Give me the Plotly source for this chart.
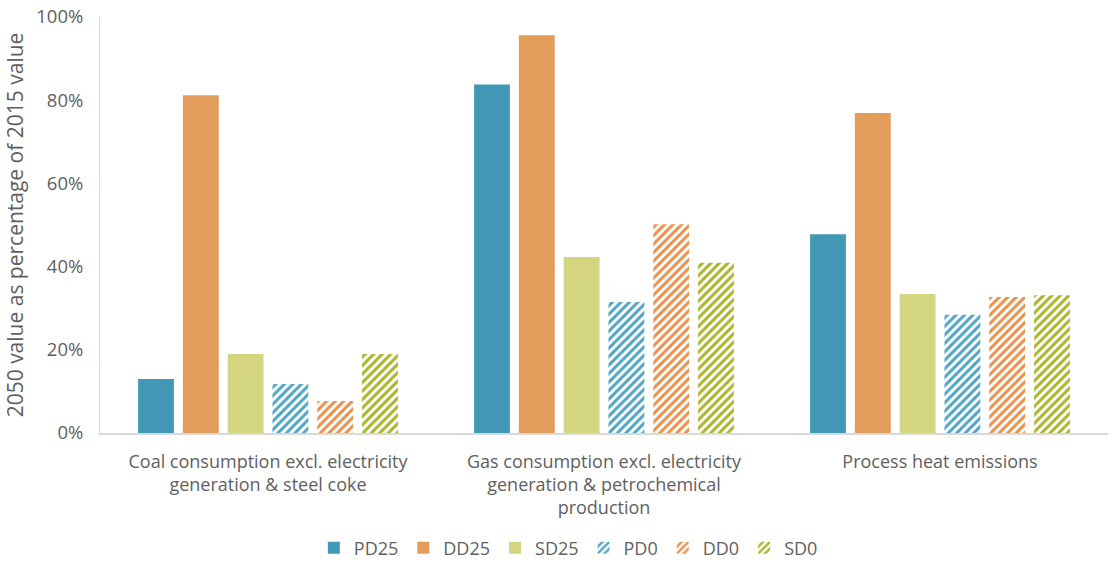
import plotly.graph_objects as go

categories = [
    "Coal consumption excl. electricity<br>generation & steel coke",
    "Gas consumption excl. electricity<br>generation & petrochemical<br>production",
    "Process heat emissions",
]
series_names = ["PD25", "DD25", "SD25", "PD0", "DD0", "SD0"]
PD25 = [0.13, 0.838, 0.478]
DD25 = [0.812, 0.956, 0.769]
SD25 = [0.19, 0.423, 0.334]
PD0 = [0.118, 0.315, 0.284]
DD0 = [0.077, 0.502, 0.327]
SD0 = [0.19, 0.409, 0.331]
values = [PD25, DD25, SD25, PD0, DD0, SD0]
colors = ["#4299B6", "#E39D5B", "#D4D67F", "#4FA3C3", "#E8904A", "#A9B52A"]
patterned = [False, False, False, True, True, True]

FONT = "'Open Sans', Lato, sans-serif"
TXT = "#5f5f5f"

fig = go.Figure()
for name, vals, col, pat in zip(series_names, values, colors, patterned):
    marker = dict(color=col, line=dict(width=0))
    if pat:
        marker["pattern"] = dict(shape="/", fgcolor=col, bgcolor="white",
                                 size=6, solidity=0.5, fillmode="replace")
    fig.add_trace(go.Bar(name=name, x=categories, y=vals, marker=marker))

fig.update_layout(
    barmode="group",
    bargap=0.2,
    bargroupgap=0.2,
    width=1110,
    height=562,
    plot_bgcolor="white",
    paper_bgcolor="white",
    font=dict(family=FONT, color=TXT, size=17),
    margin=dict(l=100, r=2, t=17, b=129, autoexpand=False),
    legend=dict(orientation="h", xref="container", x=0.512, xanchor="center",
                yref="container", y=0.025, yanchor="middle",
                font=dict(family=FONT, size=18, color=TXT), itemwidth=30, traceorder="normal"),
    showlegend=True,
)
fig.update_yaxes(
    range=[0, 1.0], tickformat=".0%", dtick=0.2, showgrid=False,
    showline=True, linecolor="#D9D9D9", linewidth=1, ticks="",
    ticklabelstandoff=12, automargin=False,
    tickfont=dict(family=FONT, size=18.5, color=TXT),
    title=dict(text="2050 value as percentage of 2015 value", font=dict(family=FONT, size=21, color=TXT), standoff=6),
    zeroline=False,
)
fig.update_xaxes(
    showline=True, linecolor="#D9D9D9", linewidth=2, showgrid=False, ticks="",
    ticklabelstandoff=11,
    tickfont=dict(family=FONT, size=18, color=TXT), automargin=False,
)
fig.write_html("out.html", config={"displayModeBar": False},
               post_script="document.body.style.margin='0';")
